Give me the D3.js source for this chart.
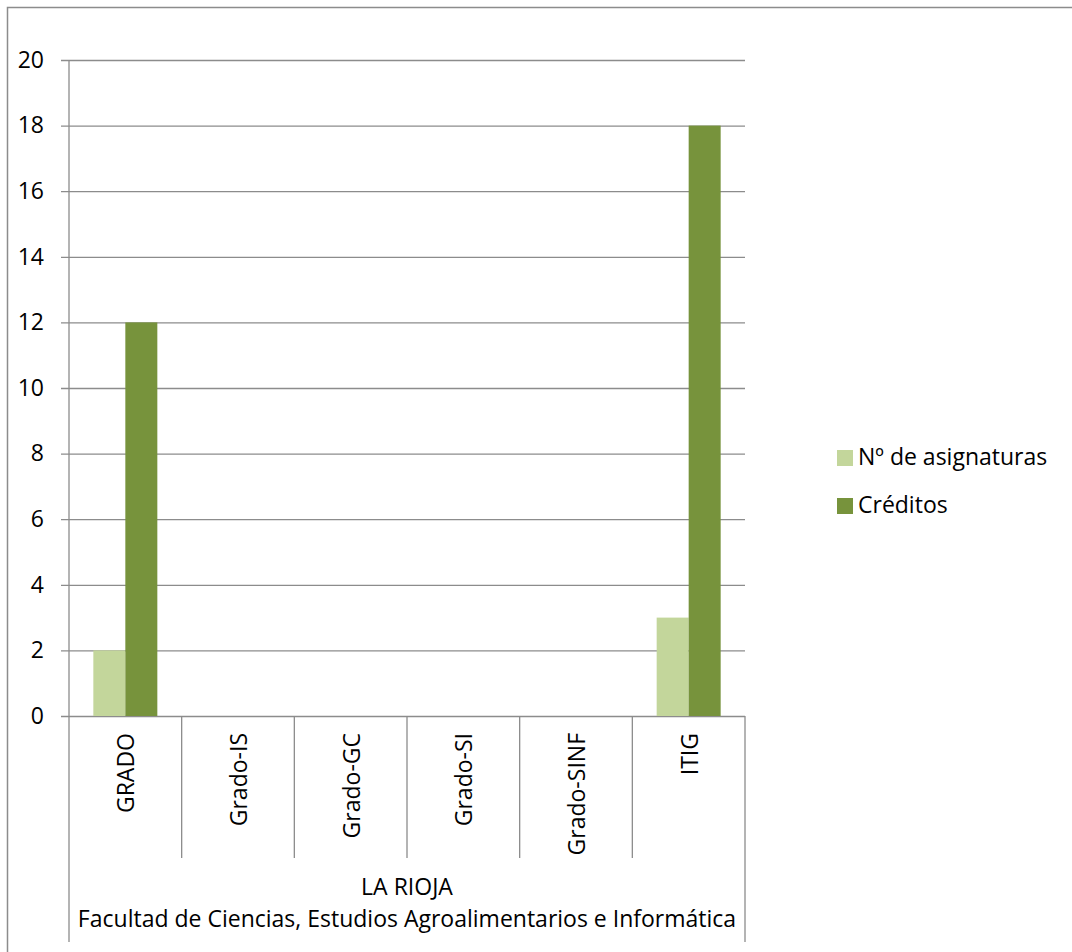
<!DOCTYPE html>
<html>
<head>
<meta charset="utf-8">
<script src="https://cdn.jsdelivr.net/npm/d3@7"></script>
<style>
  html, body { margin: 0; padding: 0; background: #fff; }
  svg { display: block; }
  text { font-family: "Open Sans", Lato, sans-serif; fill: #000; }
</style>
</head>
<body>
<svg id="chart" width="1072" height="952"></svg>
<script>
// Asignaturas y créditos por titulación
const categories = ["GRADO", "Grado-IS", "Grado-GC", "Grado-SI", "Grado-SINF", "ITIG"];
const seriesNames = ["Nº de asignaturas", "Créditos"];
const asignaturas = [2, 0, 0, 0, 0, 3];
const creditos = [12, 0, 0, 0, 0, 18];
const yTicks = [0, 2, 4, 6, 8, 10, 12, 14, 16, 18, 20];
const groupLabel = ["LA RIOJA", "Facultad de Ciencias, Estudios Agroalimentarios e Informática"];
const colors = ["#C3D69B", "#77933C"];

const rows = categories.map((c, i) => ({ cat: c, values: [asignaturas[i], creditos[i]] }));

const svg = d3.select("#chart");
const gray = "#8c8c8c";
const fontSize = 23;

// chart frame
svg.append("rect")
  .attr("x", 7.5).attr("y", 7.5)
  .attr("width", 1072).attr("height", 952)
  .attr("fill", "none").attr("stroke", gray).attr("stroke-width", 1.5);

const plot = { left: 69, right: 745, top: 60, bottom: 716 };

const x = d3.scaleBand().domain(categories).range([plot.left, plot.right]).padding(0);
const gap = x.bandwidth() * 0.216;
const xs = d3.scaleBand().domain(d3.range(seriesNames.length))
  .range([gap, x.bandwidth() - gap]).padding(0);
const y = d3.scaleLinear().domain([0, 20]).range([plot.bottom, plot.top]);

// horizontal gridlines with tick stubs
const yAxis = d3.axisLeft(y).tickValues(yTicks)
  .tickSize(-(plot.right - plot.left)).tickSizeOuter(0).tickPadding(25)
  .tickFormat(d3.format("d"));
const gy = svg.append("g").attr("transform", `translate(${plot.left},0)`).call(yAxis);
gy.select(".domain").remove();
gy.selectAll(".tick line")
  .attr("x1", -8)
  .attr("stroke", gray).attr("stroke-width", 1.3);
gy.selectAll(".tick text")
  .attr("font-size", fontSize)
  .style("font-family", "'Open Sans', Lato, sans-serif")
  .attr("fill", "#000");

// vertical axis line
svg.append("line")
  .attr("x1", plot.left).attr("x2", plot.left)
  .attr("y1", plot.top).attr("y2", plot.bottom)
  .attr("stroke", gray).attr("stroke-width", 1.3);

// bars
const groups = svg.append("g").selectAll("g").data(rows).join("g")
  .attr("transform", d => `translate(${x(d.cat)},0)`);
groups.selectAll("rect")
  .data(d => d.values.map((v, i) => ({ v, i })))
  .join("rect")
  .filter(d => d.v > 0)
  .attr("x", d => xs(d.i))
  .attr("width", xs.bandwidth())
  .attr("y", d => y(d.v))
  .attr("height", d => y(0) - y(d.v))
  .attr("fill", d => colors[d.i]);

// category separators below the axis
const bounds = categories.map(c => x(c)).concat([plot.right]);
svg.append("g").selectAll("line").data(bounds).join("line")
  .attr("x1", d => d).attr("x2", d => d)
  .attr("y1", plot.bottom)
  .attr("y2", (d, i) => (i === 0 || i === bounds.length - 1) ? 942 : 858)
  .attr("stroke", gray).attr("stroke-width", 1.3);

// rotated category labels
svg.append("g").selectAll("text").data(categories).join("text")
  .attr("transform", c => `translate(${x(c) + x.bandwidth() / 2 + 9},733) rotate(-90)`)
  .attr("text-anchor", "end")
  .attr("font-size", fontSize)
  .text(c => c);

// group label
svg.append("g").selectAll("text").data(groupLabel).join("text")
  .attr("x", (plot.left + plot.right) / 2)
  .attr("y", (d, i) => 895 + i * 32)
  .attr("text-anchor", "middle")
  .attr("font-size", fontSize)
  .text(d => d);

// legend
const legend = svg.append("g").attr("transform", "translate(837,450)");
const li = legend.selectAll("g").data(seriesNames).join("g")
  .attr("transform", (d, i) => `translate(0,${i * 48})`);
li.append("rect").attr("width", 16).attr("height", 16).attr("fill", (d, i) => colors[i]);
li.append("text").attr("x", 21).attr("y", 15).attr("font-size", fontSize).text(d => d);
</script>
</body>
</html>
